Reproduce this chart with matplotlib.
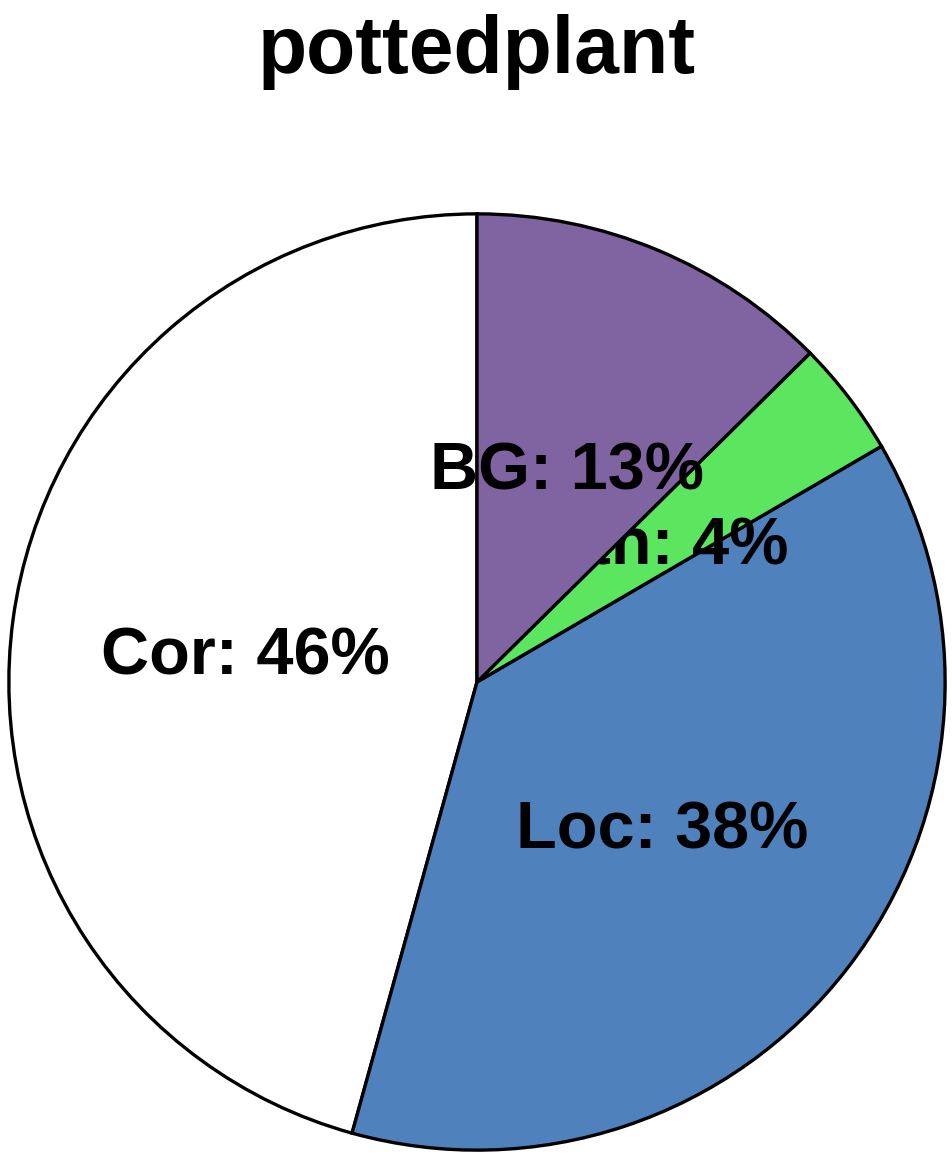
import matplotlib.pyplot as plt
import numpy as np

# données (sens horaire depuis le haut)
names = ["BG", "Oth", "Loc", "Cor"]
values = [12.6, 4.0, 37.7, 45.7]
colors = ["#8064A2", "#5CE660", "#4F81BD", "#FFFFFF"]
# ordre de dessin (le dernier passe au-dessus)
draw_order = ["Cor", "Loc", "Oth", "BG"]

plt.rcParams['font.family'] = ['Liberation Sans', 'DejaVu Sans']

fig = plt.figure(figsize=(9.52, 11.61), dpi=100)
ax = fig.add_axes([7 / 952, 9 / 1161, 940 / 952, 940 / 1161])

wedges, _ = ax.pie(values, colors=colors, startangle=90, counterclock=False,
                   radius=1.0, wedgeprops=dict(edgecolor='black', linewidth=2.4))
ax.set_xlim(-1.004, 1.004)
ax.set_ylim(-1.004, 1.004)
ax.axis('off')

for w, name, v in zip(wedges, names, values):
    z = 2 * draw_order.index(name) + 1
    w.set_zorder(z)
    mid = np.deg2rad((w.theta1 + w.theta2) / 2)
    ax.text(0.5 * np.cos(mid), 0.5 * np.sin(mid) - 0.014, f"{name}: {int(v + 0.5)}%",
            ha='center', va='center', fontsize=48, fontweight='bold',
            zorder=z + 1)

fig.text(477 / 952, 1 - 73 / 1161, "pottedplant", ha='center', va='baseline',
         fontsize=58, fontweight='bold')

fig.savefig("out.png", dpi=100)
